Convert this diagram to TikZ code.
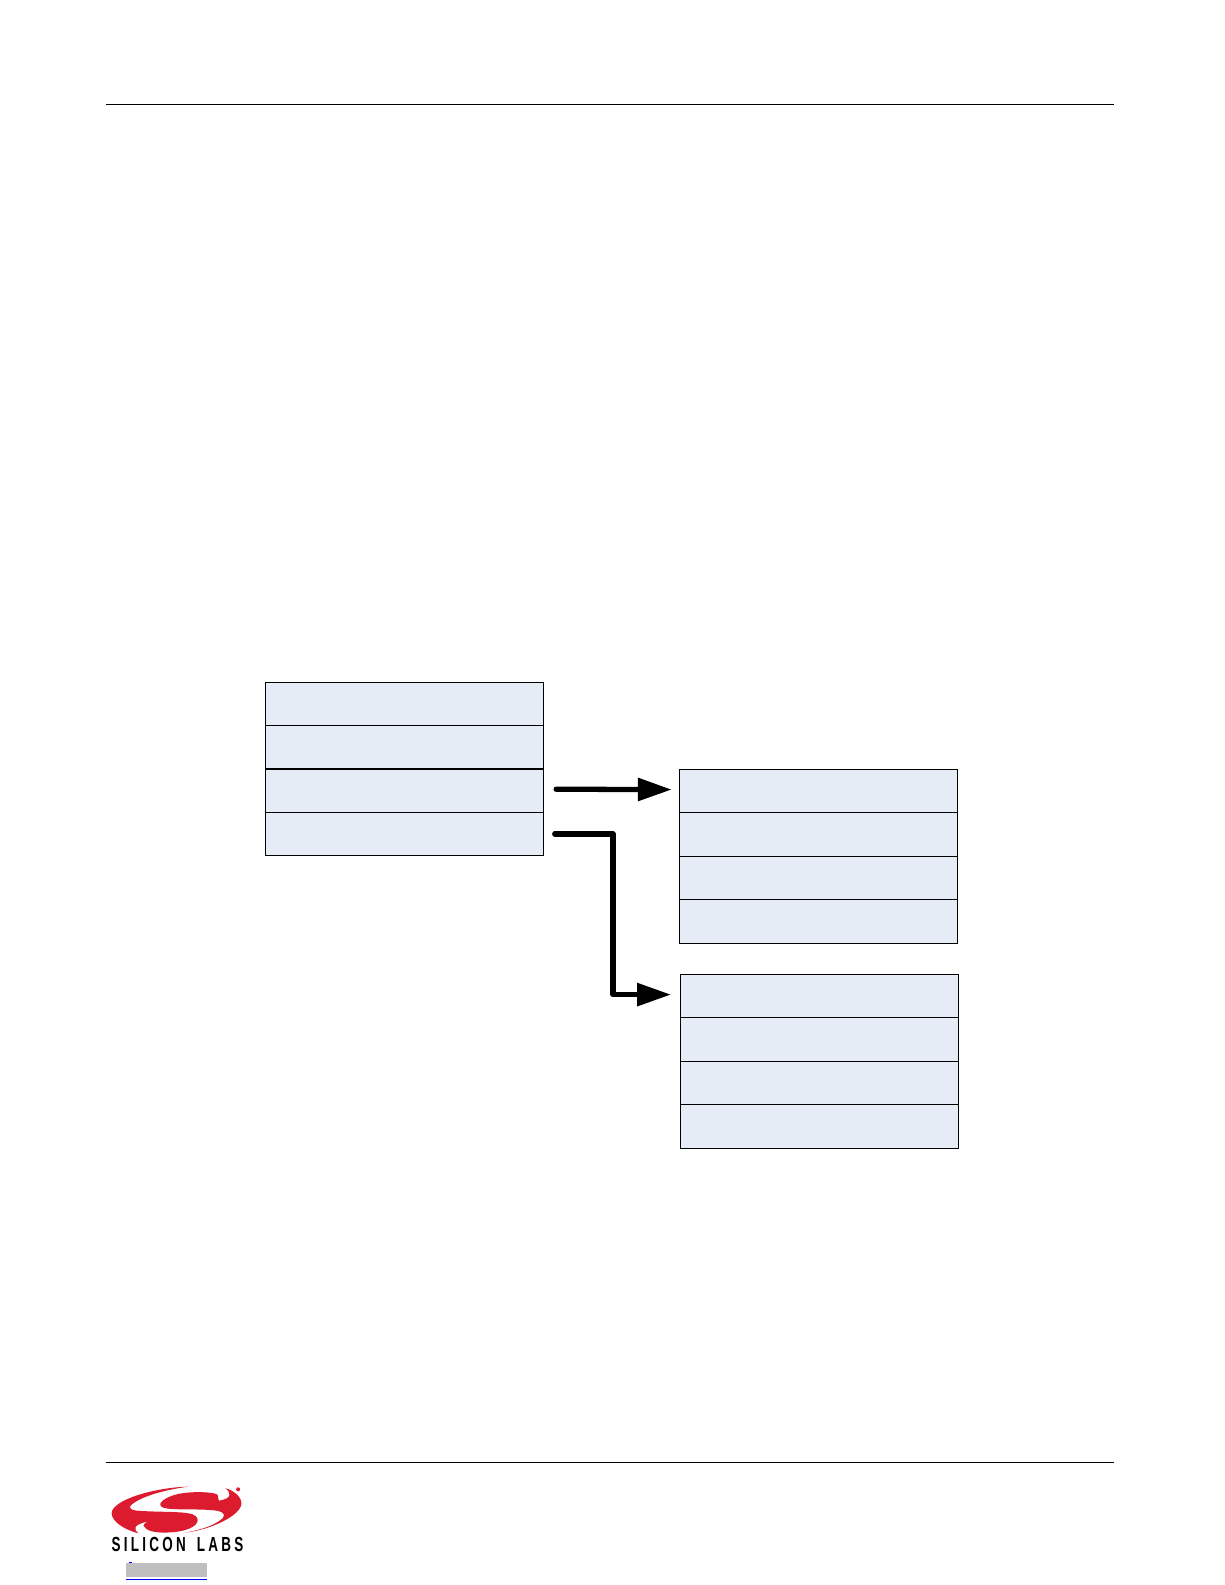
\documentclass[tikz,border=0pt]{standalone}
\usepackage{fontspec}
\usetikzlibrary{arrows.meta}
\newfontfamily\logofont[FakeStretch=.66,LetterSpace=16]{Liberation Sans}
\definecolor{cellfill}{HTML}{E6ECF6}
\definecolor{logored}{HTML}{DC1C2E}
\definecolor{linkgray}{HTML}{BFBFBF}
\tikzset{
    cellbox/.style={draw=black,line width=.4pt,fill=cellfill,minimum width=2.78cm,minimum height=.435cm,inner sep=0pt,outer sep=0pt},
    flowarrow/.style={line width=1.5pt,line cap=round,line join=round,-{Triangle[length=9.6pt,width=6.3pt]}},
    rulebar/.style={line width=.4pt,black}
}
\begin{document}
\begin{tikzpicture}[x=.01cm,y=-.01cm]
    \useasboundingbox[fill=white] (0,0) rectangle (1225,1585);
    \coordinate (headL) at (105.7,104.3);
    \coordinate (headR) at (1113.7,104.3);
    \coordinate (footL) at (105.7,1462.3);
    \coordinate (footR) at (1113.7,1462.3);
    \draw[rulebar] (headL) -- (headR);
    \draw[rulebar] (footL) -- (footR);
    \foreach \i in {0,1,2,3}
        \node[cellbox,minimum height=.433cm] (upper\i) at (404.4,{704+43.3*\i}) {};
    \foreach \i in {0,1,2,3}
        \node[cellbox] (middle\i) at (818.5,{791+43.5*\i}) {};
    \foreach \i in {0,1,2,3}
        \node[cellbox] (lower\i) at (819.5,{996+43.5*\i}) {};
    \coordinate (turn) at (613,900);
    \draw[flowarrow,shorten <=3.6pt,shorten >=2.2pt] ([yshift=.4pt]upper2.east) -- ([yshift=.4pt]middle0.west);
    \draw[flowarrow,shorten <=3.2pt,shorten >=2.7pt] (upper3.east) -| (turn) |- ([yshift=.4pt]lower0.west);
    \begin{scope}[shift={(105,1480)},x=.00333cm,y=-.00333cm]
        \fill[logored] (250,20) .. controls (150,22) and (20,60) .. (20,100)
            .. controls (20,125) and (60,150) .. (100,160)
            .. controls (88,150) and (80,135) .. (128,125)
            .. controls (120,130) and (112,135) .. (118,140)
            .. controls (130,162) and (190,160) .. (225,154)
            .. controls (270,146) and (290,124) .. (272,108)
            .. controls (255,92) and (170,98) .. (95,92)
            .. controls (70,88) and (70,80) .. (85,70)
            .. controls (120,45) and (190,28) .. (250,20) -- cycle;
        \fill[logored] (240,158) .. controls (320,150) and (410,105) .. (410,70)
            .. controls (410,50) and (385,30) .. (362,25)
            .. controls (378,38) and (385,55) .. (342,62)
            .. controls (335,55) and (345,48) .. (335,42)
            .. controls (310,34) and (240,34) .. (205,46)
            .. controls (170,58) and (155,75) .. (175,83)
            .. controls (200,92) and (280,85) .. (335,92)
            .. controls (365,98) and (365,110) .. (340,125)
            .. controls (315,142) and (275,152) .. (240,158) -- cycle;
        \fill[logored] (400,28) circle (6);
    \end{scope}
    \node[inner sep=0pt,font=\logofont\fontsize{5.8pt}{5.8pt}\selectfont\bfseries] (logotext) at (177.5,1544) {SILICON\hspace{1.2pt} LABS};
    \fill[linkgray] (126,1563) rectangle (207,1576.7);
    \fill[blue] (126,1578.6) rectangle (207,1580);
    \fill[blue] (129,1561.5) rectangle (132,1562.5);
\end{tikzpicture}
\end{document}
